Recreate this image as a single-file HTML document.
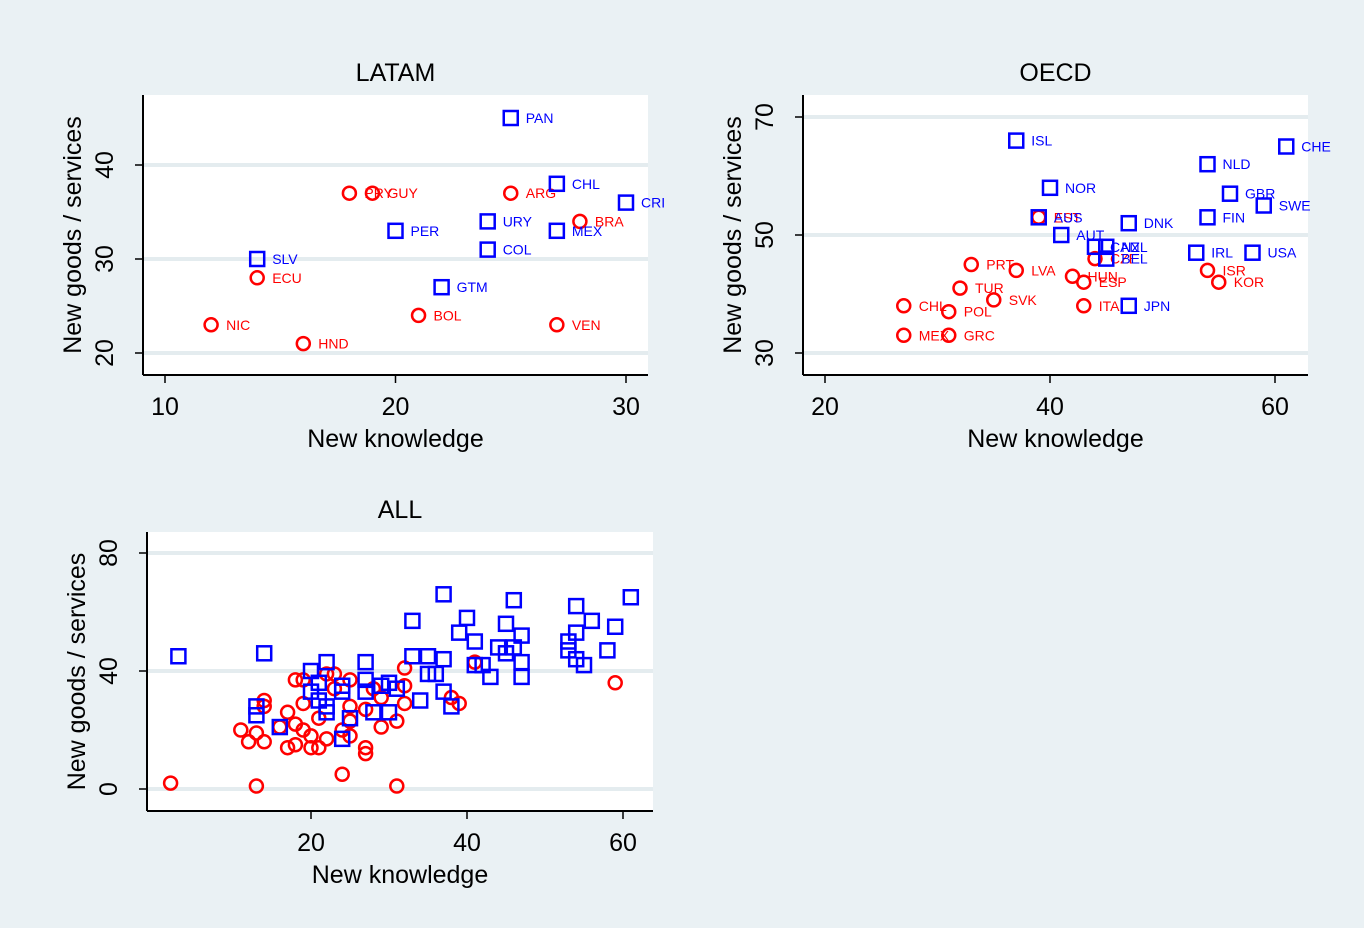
<!DOCTYPE html>
<html><head><meta charset="utf-8"><style>
html,body{margin:0;padding:0;background:#eaf1f4;}
svg{display:block;font-family:"Liberation Sans",Arial,sans-serif;}
</style></head><body>
<svg id="fig" width="1364" height="928" viewBox="0 0 1364 928" xmlns="http://www.w3.org/2000/svg">
<rect x="0" y="0" width="1364" height="928" fill="#eaf1f4"/>
</svg>
<script>
// ---- LATAM data ----
const latamBlueNames=["PAN","CHL","CRI","URY","MEX","PER","COL","SLV","GTM"];
const latamBlueX=[25,27,30,24,27,20,24,14,22];
const latamBlueY=[45,38,36,34,33,33,31,30,27];
const latamRedNames=["PRY","GUY","ARG","BRA","ECU","BOL","VEN","NIC","HND"];
const latamRedX=[18,19,25,28,14,21,27,12,16];
const latamRedY=[37,37,37,34,28,24,23,23,21];
const latamXTicks=[10,20,30];
const latamYTicks=[20,30,40];
// ---- OECD data ----
const oecdBlueNames=["ISL","CHE","NLD","NOR","GBR","SWE","AUS","FIN","DNK","AUT","CAN","NZL","BEL","IRL","USA","JPN"];
const oecdBlueX=[37,61,54,40,56,59,39,54,47,41,44,45,45,53,58,47];
const oecdBlueY=[66,65,62,58,57,55,53,53,52,50,48,48,46,47,47,38];
const oecdRedNames=["EST","CZE","PRT","LVA","HUN","ESP","ISR","KOR","TUR","SVK","CHL","POL","ITA","MEX","GRC"];
const oecdRedX=[39,44,33,37,42,43,54,55,32,35,27,31,43,27,31];
const oecdRedY=[53,46,45,44,43,42,44,42,41,39,38,37,38,33,33];
const oecdXTicks=[20,40,60];
const oecdYTicks=[30,50,70];
// ---- ALL data ----
const allBlueX=[3,14,37,46,61,54,33,40,56,59,45,47,39,41,54,53,58,53,54,55,44,46,45,47,47,43,41,42,33,35,37,35,36,37,38,34,27,27,27,22,20,20,21,21,22,22,24,24,29,30,31,28,30,25,24,16,13,13];
const allBlueY=[45,46,66,64,65,62,57,58,57,55,56,52,53,50,53,50,47,47,44,42,48,48,46,43,38,38,42,42,45,45,44,39,39,33,28,30,43,37,33,43,40,33,36,30,28,26,35,33,35,36,34,26,26,24,17,21,28,25];
const allRedX=[2,13,24,31,59,32,41,38,39,27,27,14,14,11,12,14,13,17,18,20,21,20,22,17,18,19,18,19,22,23,25,23,25,25,24,25,27,29,31,32,32,28,29,21,19,16];
const allRedY=[2,1,5,1,36,41,43,31,29,14,12,30,28,20,16,16,19,14,15,14,14,18,17,26,22,29,37,37,39,39,37,34,28,23,20,18,27,21,23,29,35,34,31,24,20,21];
const allXTicks=[20,40,60];
const allYTicks=[0,40,80];

const NS="http://www.w3.org/2000/svg";
const fig=document.getElementById('fig');
function mk(tag,attrs,parent){const e=document.createElementNS(NS,tag);for(const k in attrs)e.setAttribute(k,attrs[k]);(parent||fig).appendChild(e);return e;}

function panel(cfg){
  const g=mk('g',{});
  
  
  const {L,R,T,B}=cfg;
  const sx=v=>cfg.x0px+(v-cfg.x0)*(cfg.x1px-cfg.x0px)/(cfg.x1-cfg.x0);
  const sy=v=>cfg.y0px+(v-cfg.y0)*(cfg.y1px-cfg.y0px)/(cfg.y1-cfg.y0);
  const bg=mk('rect',{x:L,y:T,width:R-L,height:B-T,fill:'#ffffff'},g);
  
  
  cfg.yt.forEach(v=>{
    const gl=mk('line',{x1:L,x2:R,y1:sy(v),y2:sy(v),stroke:'#e4ecef','stroke-width':4},g);
    
    
  });
  const ax=mk('line',{x1:L,x2:R,y1:B,y2:B,stroke:'#000','stroke-width':2},g);
  
  
  const ay=mk('line',{x1:L,x2:L,y1:T,y2:B,stroke:'#000','stroke-width':2},g);
  
  
  cfg.xt.forEach(v=>{
    mk('line',{x1:sx(v),x2:sx(v),y1:B,y2:B+8,stroke:'#000','stroke-width':1.5},g);
    const t=mk('text',{x:sx(v),y:B+40,'font-size':25,'text-anchor':'middle',fill:'#000'},g);
    t.textContent=v;
    
    
  });
  cfg.yt.forEach(v=>{
    mk('line',{x1:L-8,x2:L,y1:sy(v),y2:sy(v),stroke:'#000','stroke-width':1.5},g);
    const t=mk('text',{x:0,y:0,'font-size':25,'text-anchor':'middle',fill:'#000',transform:`translate(${L-30},${sy(v)}) rotate(-90)`},g);
    t.textContent=v;
    
    
  });
  const title=mk('text',{x:(L+R)/2,y:T-14,'font-size':25,'text-anchor':'middle',fill:'#000'},g);
  title.textContent=cfg.title;
  
  
  const xt=mk('text',{x:(L+R)/2,y:B+72,'font-size':25,'text-anchor':'middle',fill:'#000'},g);
  xt.textContent='New knowledge';
  
  
  const yt=mk('text',{x:0,y:0,'font-size':25,'text-anchor':'middle',fill:'#000',transform:`translate(${L-62},${(T+B)/2}) rotate(-90)`},g);
  yt.textContent='New goods / services';
  
  
  cfg.rx.forEach((v,i)=>{
    const c=mk('circle',{cx:sx(v),cy:sy(cfg.ry[i]),r:6.5,fill:'none',stroke:'#ff0000','stroke-width':2.5},g);
    
    
    if(cfg.rn){
      const t=mk('text',{x:sx(v)+15,y:sy(cfg.ry[i])+5,'font-size':14,fill:'#ff0000'},g);
      t.textContent=cfg.rn[i];
      
      
    }
  });
  cfg.bx.forEach((v,i)=>{
    const s=mk('rect',{x:sx(v)-7,y:sy(cfg.by[i])-7,width:14,height:14,fill:'none',stroke:'#0000ff','stroke-width':2.5},g);
    
    
    if(cfg.bn){
      const t=mk('text',{x:sx(v)+15,y:sy(cfg.by[i])+5,'font-size':14,fill:'#0000ff'},g);
      t.textContent=cfg.bn[i];
      
      
    }
  });
}
panel({name:'latam',title:'LATAM',L:143,R:648,T:95,B:375,x0:10,x1:30,x0px:165,x1px:626,y0:20,y1:40,y0px:353,y1px:165,
  xt:latamXTicks,yt:latamYTicks,bx:latamBlueX,by:latamBlueY,bn:latamBlueNames,rx:latamRedX,ry:latamRedY,rn:latamRedNames});
panel({name:'oecd',title:'OECD',L:803,R:1308,T:95,B:375,x0:20,x1:60,x0px:825,x1px:1275,y0:30,y1:70,y0px:353,y1px:117,
  xt:oecdXTicks,yt:oecdYTicks,bx:oecdBlueX,by:oecdBlueY,bn:oecdBlueNames,rx:oecdRedX,ry:oecdRedY,rn:oecdRedNames});
panel({name:'all',title:'ALL',L:147,R:653,T:532,B:811,x0:20,x1:60,x0px:311,x1px:623,y0:0,y1:80,y0px:789,y1px:553,
  xt:allXTicks,yt:allYTicks,bx:allBlueX,by:allBlueY,rx:allRedX,ry:allRedY});
</script>
</body></html>
